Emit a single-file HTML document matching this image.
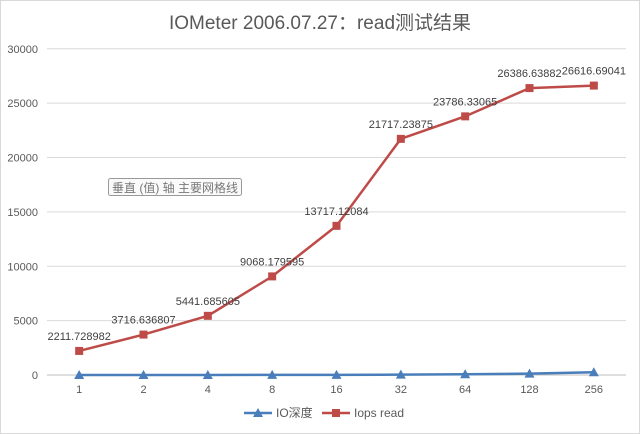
<!DOCTYPE html>
<html><head><meta charset="utf-8"><style>
body{margin:0;background:#fff}
svg{display:block;font-family:"Liberation Sans","Noto Sans CJK SC",sans-serif}
</style></head><body>
<svg id="chart" width="640" height="434" viewBox="0 0 640 434">
<rect x="0.5" y="0.5" width="639" height="433" fill="#fff" stroke="#d9d9d9"/>
<text x="320" y="29" text-anchor="middle" font-size="19" fill="#595959">IOMeter 2006.07.27：read测试结果</text>
<g id="grid"></g><g id="axes"></g><g id="series"></g>
<g>
<rect x="108.5" y="178.5" width="133" height="17" rx="2" fill="#fafafa" stroke="#999"/>
<text x="175" y="192" text-anchor="middle" font-size="12" fill="#777">垂直 (值) 轴 主要网格线</text>
</g>
<g>
<g>
<line x1="244" y1="413" x2="272" y2="413" stroke="#4a7ebb" stroke-width="2.5"/>
<polygon points="258,408 263,417 253,417" fill="#4a7ebb"/>
<text x="276" y="417" font-size="12" fill="#595959">IO深度</text></g>
<g>
<line x1="322" y1="413" x2="350" y2="413" stroke="#be4b48" stroke-width="2.5"/>
<rect x="332" y="409" width="8" height="8" fill="#be4b48"/>
<text x="354" y="417" font-size="12" fill="#595959">Iops read</text></g>
</g>
</svg>
<script>
const categories=["1","2","4","8","16","32","64","128","256"];
const ioDepth=[1,2,4,8,16,32,64,128,256];
const iopsRead=[2211.728982,3716.636807,5441.685605,9068.179595,13717.12084,21717.23875,23786.33065,26386.63882,26616.69041];
const iopsLabels=["2211.728982","3716.636807","5441.685605","9068.179595","13717.12084","21717.23875","23786.33065","26386.63882","26616.69041"];
const yTicks=[0,5000,10000,15000,20000,25000,30000];
const NS="http://www.w3.org/2000/svg";
const L=47,R=626,Y0=375,Y1=48.8,YMAX=30000;
const x=i=>L+(R-L)/categories.length*(i+0.5);
const y=v=>Y0-(Y0-Y1)*v/YMAX;
function mk(t,a,p){const e=document.createElementNS(NS,t);for(const k in a)e.setAttribute(k,a[k]);p.appendChild(e);return e;}
const grid=document.getElementById('grid'),axes=document.getElementById('axes'),ser=document.getElementById('series');
yTicks.forEach(v=>{
 const g=mk('line',{x1:L,x2:R,y1:y(v),y2:y(v),stroke:v===0?'#bfbfbf':'#d9d9d9','stroke-width':1},grid);
 
 
 const t=mk('text',{x:38,y:y(v)+4,'text-anchor':'end','font-size':11,fill:'#595959'},axes);t.textContent=v;
 
 
});
categories.forEach((c,i)=>{
 const t=mk('text',{x:x(i),y:393,'text-anchor':'middle','font-size':11,fill:'#595959'},axes);t.textContent=c;
 
 
});
const lr=mk('polyline',{points:iopsRead.map((v,i)=>x(i)+','+y(v)).join(' '),fill:'none',stroke:'#be4b48','stroke-width':2.5},ser);


const lb=mk('polyline',{points:ioDepth.map((v,i)=>x(i)+','+y(v)).join(' '),fill:'none',stroke:'#4a7ebb','stroke-width':2.5},ser);


iopsRead.forEach((v,i)=>{
 const r=mk('rect',{x:x(i)-4,y:y(v)-4,width:8,height:8,fill:'#be4b48'},ser);
 
 
 const t=mk('text',{x:x(i),y:y(v)-11,'text-anchor':'middle','font-size':11,fill:'#404040'},ser);t.textContent=iopsLabels[i];
 
 
});
ioDepth.forEach((v,i)=>{
 const px=x(i),py=y(v);
 const p=mk('polygon',{points:`${px},${py-5} ${px+5},${py+4} ${px-5},${py+4}`,fill:'#4a7ebb'},ser);
 
 
});
</script>
</body></html>
